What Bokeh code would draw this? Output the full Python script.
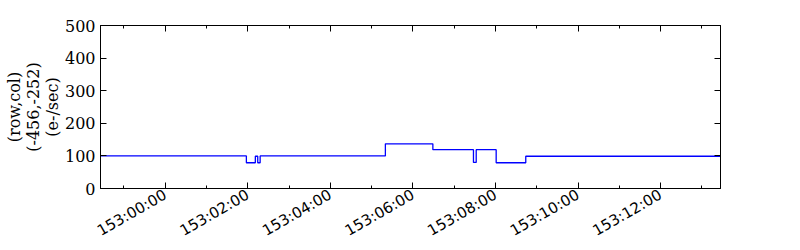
import math
from bokeh.plotting import figure
from bokeh.models import Range1d, LinearAxis, FixedTicker
from bokeh.embed import file_html
from bokeh.resources import INLINE

# time in seconds relative to 153:00:00
step_times = [-94, 118, 131, 134.5, 138, 320, 389, 448, 452, 481, 524, 807]
step_values = [100, 79, 99, 79, 100, 137, 119, 80, 119, 79, 99, 99]
x_start, x_end = -94, 807
major_ticks = [0, 120, 240, 360, 480, 600, 720]
tick_labels = ["153:00:00", "153:02:00", "153:04:00", "153:06:00",
               "153:08:00", "153:10:00", "153:12:00"]
minor_ticks = [-60, 60, 180, 300, 420, 540, 660, 780]
y_ticks = [0, 100, 200, 300, 400, 500]
ylabel_lines = ["(row,col)", "(-456,-252)", "(e-/sec)"]

p = figure(width=800, height=250, output_backend="svg", toolbar_location=None,
           x_range=Range1d(x_start, x_end), y_range=Range1d(0, 500),
           x_axis_type=None, y_axis_type=None,
           min_border_left=100, min_border_right=80,
           min_border_top=25, min_border_bottom=62)
p.grid.visible = False
p.outline_line_color = "black"
p.background_fill_color = "white"
p.border_fill_color = "white"

xt = FixedTicker(ticks=major_ticks, minor_ticks=minor_ticks)
yt = FixedTicker(ticks=y_ticks, minor_ticks=[])

def style(ax, labels=True, font="DejaVu Sans", size="16px"):
    ax.axis_line_color = "black"
    ax.major_tick_in = 6
    ax.major_tick_out = 0
    ax.minor_tick_in = 3
    ax.minor_tick_out = 0
    ax.major_tick_line_color = "black"
    ax.minor_tick_line_color = "black"
    ax.major_label_text_font = font
    if labels:
        ax.major_label_text_color = "black"
        ax.major_label_text_font_size = size
        ax.major_label_standoff = 6
    else:
        ax.major_label_text_color = None
        ax.major_label_text_font_size = "1px"
        ax.major_label_standoff = 0

bx = LinearAxis(ticker=xt)
style(bx, size="15px")
bx.major_label_overrides = {t: l for t, l in zip(major_ticks, tick_labels)}
bx.major_label_orientation = math.pi / 6
bx.major_label_standoff = 5
p.add_layout(bx, "below")

tx = LinearAxis(ticker=xt)
style(tx, labels=False)
p.add_layout(tx, "above")

ly = LinearAxis(ticker=yt)
style(ly, font="DejaVu Serif")
ly.major_label_standoff = 5
ly.minor_tick_line_color = None
ly.axis_label = "\n".join(ylabel_lines)
ly.axis_label_text_font = "DejaVu Serif"
ly.axis_label_text_font_size = "16px"
ly.axis_label_text_font_style = "normal"
ly.axis_label_text_color = "black"
ly.axis_label_text_line_height = 1.0
ly.axis_label_standoff = 0
p.add_layout(ly, "left")

ry = LinearAxis(ticker=yt)
style(ry, labels=False)
ry.minor_tick_line_color = None
p.add_layout(ry, "right")

p.step(step_times, step_values, mode="after", line_color="#0000ff", line_width=1.3)

open("out.html", "w").write(file_html(p, INLINE))
